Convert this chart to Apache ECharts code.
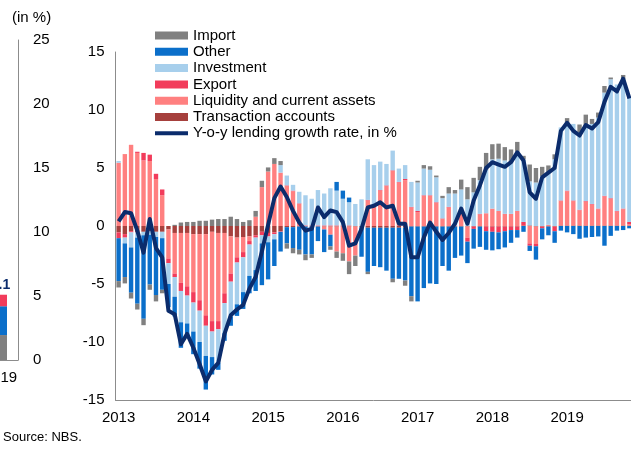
<!DOCTYPE html>
<html>
<head>
<meta charset="utf-8">
<script src="https://cdn.jsdelivr.net/npm/echarts@6/dist/echarts.min.js"></script>
<style>
  html, body { margin: 0; padding: 0; background: #fff; }
  #chart { width: 631px; height: 455px; }
</style>
</head>
<body>
<div id="chart"></div>
<script>
// monthly contributions to y-o-y lending growth, Jan 2013 - Nov 2019 (pp)
const years = ['2013', '2014', '2015', '2016', '2017', '2018', '2019'];
const monthCount = 83;

const transaction = [
  -0.55, -0.7, -0.45, -0.55, -0.5, -0.45, -0.5, -0.5, -0.3, -0.6,
  -0.6, -0.6, -0.7, -0.7, -0.7, -0.5, -0.6, -0.6, -0.9, -1.0,
  -0.95, -0.9, -0.8, -0.5, -0.6, -0.55, -0.45, -0.1, -0.1, -0.05,
  -0.05, -0.05, -0.05, -0.05, -0.05, -0.05, -0.05, -0.05, -0.05, -0.1,
  -0.15, -0.15, -0.15, -0.15, -0.15, -0.15, -0.15, -0.05, -0.05, -0.05,
  -0.05, -0.05, -0.05, -0.05, -0.05, -0.05, -0.05, -0.05, -0.05, -0.05,
  -0.05, -0.05, -0.05, -0.05, -0.05, 0.05, 0.05, -0.05, -0.05, -0.05,
  -0.05, 0.05, 0.05, 0.05, 0.05, 0.05, 0.05, 0.05, 0.05, 0.05,
  0.05, 0.05, 0.05
];
const liquidity = [
  5.45, 6.2, 7.0, 6.3, 5.65, 5.6, 4.05, 2.65, -2.5, -3.5,
  -4.3, -4.6, -5.0, -5.7, -7.0, -7.7, -7.6, -5.2, -3.2, -1.7,
  -1.3, -0.4, 0.8, 3.35, 4.7, 5.35, 4.6, 3.45, 3.0, 1.9,
  0, 0, 0, -0.25, -0.7, -2.15, -2.3, -3.0, -2.5, 0,
  2.2, 1.75, 3.05, 3.45, 4.75, 3.75, 3.95, 1.6, 1.2, 2.6,
  2.6, 2.0, 0.6, 1.6, 0, 1.3, -0.95, 0, 1.0, 1.1,
  1.5, 1.3, 1.05, 1.05, 1.3, 0, -1.5, -1.5, 0, 0.1,
  0, 2.1, 2.95, 2.1, 1.3, 2.05, 1.8, 1.4, 2.5, 2.3,
  1.2, 1.4, 0.1
];
const exportC = [
  -0.5, -0.3, -0.1, 0.1, 0.65, 0.55, 0.45, 0.5, -0.4, -0.3,
  -0.7, -0.8, -0.9, -0.9, -0.9, -0.9, -0.7, -0.85, -0.7, -0.45,
  -0.45, -0.3, -0.2, -0.3, -0.3, -0.15, -0.05, 0.05, 0.05, 0.05,
  0.05, 0.05, 0.05, 0.05, 0.05, 0.05, 0.05, 0.05, 0, 0,
  0.05, 0.05, 0.05, 0.05, 0.05, 0.05, 0.1, 0.05, 0.1, 0.05,
  0.05, 0.05, 0.05, 0.05, 0.05, 0.05, -0.35, -0.2, 0.05, -0.4,
  -0.45, -0.5, -0.4, -0.3, -0.3, 0.3, -0.2, -0.2, -0.15, 0,
  -0.4, 0.05, 0.05, 0.05, 0.05, 0.05, 0.05, 0.05, 0.05, 0.05,
  0.05, 0.05, 0.2
];
const investment = [
  0.15, -0.5, -1.3, -0.45, -0.3, -0.3, -0.45, -0.55, -1.8, -1.7,
  -2.7, -2.4, -2.5, -2.7, -2.6, -2.2, -2.9, -2.6, -3.0, -3.6,
  -3.0, -2.7, -2.8, -0.7, -0.5, -0.45, 0.65, 0.85, 0.5, 1.0,
  2.6, 2.3, 3.05, 2.75, 3.2, 3.0, 2.3, 2.0, 1.9, 2.3,
  3.5, 3.45, 2.45, 1.85, 1.7, 1.15, 1.2, 2.15, 2.45, 2.3,
  2.2, 2.15, 1.75, 1.15, 2.75, 1.8, 2.3, 2.9, 2.9, 3.75,
  4.25, 4.5, 4.6, 4.45, 5.1, 5.4, 3.8, 3.75, 4.3, 4.55,
  5.75, 6.3, 5.75, 6.6, 6.65, 6.45, 6.9, 7.85, 8.9, 10.25,
  10.9, 11.15, 10.8
];
const other = [
  -3.7, -2.9, -3.9, -5.7, -7.2, -4.3, -5.0, -4.45, -2.0, -1.7,
  -2.2, -1.25, -1.95, -2.3, -2.9, -1.5, -0.6, -0.65, -0.8, -1.0,
  -1.45, -1.5, -1.8, -3.6, -3.2, -2.3, -1.7, -1.4, -1.8, -2.0,
  -2.4, -2.4, -1.25, -1.95, -1.0, 0.75, 0.7, 0.4, 0, -2.55,
  -3.8, -3.3, -3.4, -3.7, -4.4, -4.4, -4.55, -6.0, -6.45, -5.3,
  -4.9, -4.95, -3.4, -3.8, -2.7, -2.5, -1.85, -1.7, -1.75, -1.6,
  -1.6, -1.45, -1.4, -1.1, -0.65, -0.5, -0.45, -1.15, -0.95, -0.75,
  -1.0, -0.4, -0.55, -0.7, -1.1, -1.0, -0.95, -0.9, -1.7, -0.85,
  -0.4, -0.35, -0.2
];
const importC = [
  -0.55, -0.55, -0.5, -0.5, -0.55, -0.45, -0.55, -0.3, 0, 0.1,
  0.3, 0.35, 0.35, 0.45, 0.45, 0.55, 0.6, 0.6, 0.8, 0.6,
  0.35, 0.5, 0.5, 0.55, 0.35, 0.5, 0.35, -0.45, -0.45, -0.4,
  -0.5, -0.3, 0, 0, -0.3, -0.55, -0.65, -1.1, -0.9, 0,
  -0.2, 0, 0, 0, -0.3, 0, -0.45, -0.45, 0.15, 0.3,
  0.3, 0.15, 0.2, 0.55, 0.3, 0.85, 1.05, 1.25, 1.15, 1.45,
  1.3, 1.3, 1.15, 1.1, 0.85, 0.3, 1.45, 1.25, 0.8, 0.57,
  0.43, 0, 0.5, 0, 0.7, 1.0, 0.43, 0.43, 0.57, 0.15,
  0, 0.37, 0
];
const lending = [
  0.4, 1.2, 1.1, -0.4, -2.3, 0.6, -1.9, -2.7, -7.3, -7.6,
  -10.2, -9.3, -10.5, -11.9, -13.4, -12.4, -11.8, -9.3, -7.7, -7.2,
  -6.8, -5.4, -4.4, -2.2, 0.1, 2.4, 3.4, 2.5, 1.3, 0.3,
  -0.4, -0.25, 1.6, 0.76, 1.34, 1.2, 0.33, -1.7, -1.5, -0.25,
  1.6, 1.75, 2.05, 1.6, 1.75, 0.2, 0.2, -2.7, -2.7, -1.0,
  0.3, -0.5, -1.2, -0.6, 0.2, 1.5, 0.2, 2.2, 3.5, 5.0,
  5.5, 5.3, 5.1, 5.5, 6.35, 5.65, 2.9, 2.35, 4.2, 4.6,
  5.0, 8.2, 8.9, 8.2, 7.8, 8.7, 8.4, 8.95, 10.7, 12.0,
  11.6, 12.7, 11.0
];

// neighbouring panel, cut off at the left edge
const sideCats = ['2019'];
const sideImport = [1.95];
const sideOther = [2.25];
const sideExport = [0.9];
const sideTotal = [5.1];

const months = [];
for (let i = 0; i < monthCount; i++) {
  const y = years[Math.floor(i / 12)];
  months.push(y + '-' + String((i % 12) + 1).padStart(2, '0'));
}

const FONT = 'Liberation Sans, Arial, sans-serif';
const colors = {
  Import: '#808080',
  Other: '#0b6fca',
  Investment: '#a7cfec',
  Export: '#f23c5b',
  Liquidity: '#ff8080',
  Transaction: '#a6403d',
  Line: '#0b2c6c',
};

const chart = echarts.init(document.getElementById('chart'));

const barSeries = (name, data, color) => ({
  name,
  type: 'bar',
  stack: 'main',
  data,
  barWidth: 4.4,
  itemStyle: { color },
  emphasis: { disabled: true },
});

const sideBar = (name, data, color, extra) => Object.assign({
  name,
  type: 'bar',
  stack: 'side',
  xAxisIndex: 1,
  yAxisIndex: 1,
  barWidth: 13,
  data,
  itemStyle: { color },
}, extra || {});

const option = {
  animation: false,
  textStyle: { fontFamily: FONT },
  title: [
    {
      text: '(in %)', left: 12, top: 10, padding: 0,
      textStyle: { fontFamily: FONT, fontSize: 15, fontWeight: 'normal', color: '#000' },
    },
    {
      text: 'Source: NBS.', left: 3, top: 431, padding: 0,
      textStyle: { fontFamily: FONT, fontSize: 13, fontWeight: 'normal', color: '#000' },
    },
  ],
  legend: {
    orient: 'vertical',
    left: 155,
    top: 28,
    padding: 0,
    itemWidth: 33,
    itemHeight: 8,
    itemGap: 1.3,
    textStyle: { fontFamily: FONT, fontSize: 15, color: '#000' },
    data: [
      { name: 'Import', icon: 'rect' },
      { name: 'Other', icon: 'rect' },
      { name: 'Investment', icon: 'rect' },
      { name: 'Export', icon: 'rect' },
      { name: 'Liquidity and current assets', icon: 'rect' },
      { name: 'Transaction accounts', icon: 'rect' },
      { name: 'Y-o-y lending growth rate, in %', icon: 'path://M0,0H33V4H0Z' },
    ],
  },
  grid: [
    { left: 115.5, top: 52, width: 517, height: 348, outerBoundsMode: 'none', containLabel: false },
    { left: -17, top: 40, width: 35, height: 320, outerBoundsMode: 'none', containLabel: false },
  ],
  xAxis: [
    {
      type: 'category',
      gridIndex: 0,
      data: months,
      axisLine: { onZero: false, lineStyle: { color: '#8c8c8c', width: 1 } },
      axisTick: { show: false },
      axisLabel: {
        interval: (i) => i % 12 === 0,
        formatter: (v) => v.slice(0, 4),
        fontFamily: FONT, fontSize: 15, color: '#000', margin: 10,
      },
    },
    {
      type: 'category',
      gridIndex: 1,
      data: sideCats,
      axisLine: { lineStyle: { color: '#8c8c8c', width: 1 } },
      axisTick: { show: false },
      axisLabel: { fontFamily: FONT, fontSize: 15, color: '#000', margin: 10 },
    },
  ],
  yAxis: [
    {
      type: 'value',
      gridIndex: 0,
      min: -15, max: 15, interval: 5,
      axisLine: { show: true, lineStyle: { color: '#8c8c8c', width: 1 } },
      axisTick: { show: false },
      splitLine: { show: false },
      axisLabel: { fontFamily: FONT, fontSize: 15, color: '#000', margin: 11 },
    },
    {
      type: 'value',
      gridIndex: 1,
      position: 'right',
      min: 0, max: 25, interval: 5,
      axisLine: { show: true, lineStyle: { color: '#8c8c8c', width: 1 } },
      axisTick: { show: false },
      splitLine: { show: false },
      axisLabel: { fontFamily: FONT, fontSize: 15, color: '#000', margin: 15 },
    },
  ],
  series: [
    barSeries('Transaction accounts', transaction, colors.Transaction),
    barSeries('Liquidity and current assets', liquidity, colors.Liquidity),
    barSeries('Export', exportC, colors.Export),
    barSeries('Investment', investment, colors.Investment),
    barSeries('Other', other, colors.Other),
    barSeries('Import', importC, colors.Import),
    {
      name: 'Y-o-y lending growth rate, in %',
      type: 'line',
      data: lending,
      symbol: 'none',
      z: 10,
      lineStyle: { color: colors.Line, width: 4, join: 'round' },
      itemStyle: { color: colors.Line },
    },
    sideBar('side-import', sideImport, colors.Import),
    sideBar('side-other', sideOther, colors.Other),
    sideBar('side-export', sideExport, colors.Export, {
      label: {
        show: true,
        position: 'top',
        distance: 3,
        formatter: (p) => sideTotal[p.dataIndex].toFixed(1),
        fontFamily: FONT, fontSize: 14, fontWeight: 'bold', color: colors.Line,
      },
    }),
  ],
};

chart.setOption(option);
</script>
</body>
</html>
